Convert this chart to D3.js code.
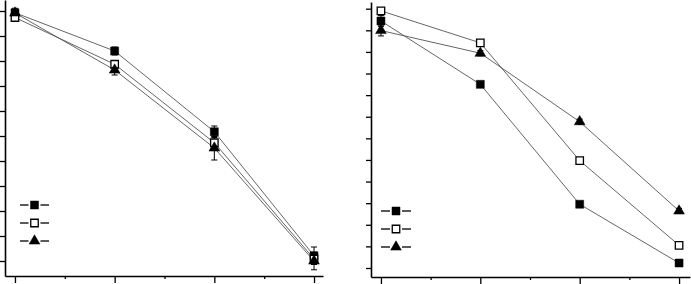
<!DOCTYPE html>
<html>
<head>
<meta charset="utf-8">
<script src="https://cdn.jsdelivr.net/npm/d3@7"></script>
<style>
  body { margin: 0; background: #fff; }
  svg { display: block; }
</style>
</head>
<body>
<script>
// x positions (4 groups), no labels in the picture
const groups = [0, 1, 2, 3];

// left panel values and errors
const leftFilled = [99.3, 84.0, 51.7, 2.1];
const leftOpen = [97.4, 78.7, 47.3, 0.8];
const leftTri = [99.2, 76.4, 45.2, 0.0];
const leftFilledErr = [1.8, 1.6, 2.3, 3.5];
const leftOpenErr = [1.0, 1.5, 2.5, 1.5];
const leftTriErr = [1.0, 2.0, 4.8, 3.5];
const leftTicks = d3.range(0, 101, 10);

// right panel values and errors
const rightFilled = [11.43, 8.5, 2.95, 0.23];
const rightOpen = [11.9, 10.42, 4.97, 1.05];
const rightTri = [10.99, 9.94, 6.77, 2.64];
const rightFilledErr = [0.25, 0.1, 0.1, 0.08];
const rightOpenErr = [0.08, 0.08, 0.1, 0.08];
const rightTriErr = [0.25, 0.12, 0.12, 0.12];
const rightTicks = d3.range(0, 13, 1);

const width = 691, height = 284;
const svg = d3.select("body").append("svg").attr("width", width).attr("height", height);

function panel(cfg) {
    const g = svg.append("g");
    const x = d3.scaleLinear().domain(cfg.xDomain).range(cfg.xRange);
    const y = d3.scaleLinear().domain(cfg.yDomain).range(cfg.yRange);

    // axes
    const xMajor = g.append("g").attr("transform", "translate(0," + cfg.yRange[0] + ")")
        .call(d3.axisBottom(x).tickValues(groups).tickSize(7).tickSizeOuter(0).tickFormat(""));
    g.append("g").attr("transform", "translate(0," + cfg.yRange[0] + ")")
        .call(d3.axisBottom(x).tickValues([0.5, 1.5, 2.5]).tickSize(3).tickFormat(""))
        .select(".domain").remove();
    const yAx = g.append("g").attr("transform", "translate(" + cfg.xRange[0] + ",0)")
        .call(d3.axisLeft(y).tickValues(cfg.ticks).tickSize(5).tickSizeOuter(0).tickFormat(""));
    g.selectAll(".domain").attr("stroke", "#000").attr("stroke-width", 1.6);
    g.selectAll(".tick line").attr("stroke", "#000").attr("stroke-width", 1.3);

    const line = d3.line().x((d, i) => x(groups[i])).y(d => y(d));

    cfg.series.forEach(s => {
        g.append("path").datum(s.values)
            .attr("fill", "none").attr("stroke", "#555").attr("stroke-width", 0.9)
            .attr("d", line);
    });
    cfg.series.forEach(s => {
        s.values.forEach((v, i) => {
            const cx = x(groups[i]);
            const e = s.err[i];
            g.append("line").attr("x1", cx).attr("x2", cx)
                .attr("y1", y(v + e)).attr("y2", y(v - e))
                .attr("stroke", "#000").attr("stroke-width", 1);
            [v + e, v - e].forEach(t => {
                g.append("line").attr("x1", cx - 3).attr("x2", cx + 3)
                    .attr("y1", y(t)).attr("y2", y(t))
                    .attr("stroke", "#000").attr("stroke-width", 1);
            });
        });
    });
    cfg.series.forEach(s => {
        g.selectAll(null).data(s.values).enter().append("path")
            .attr("transform", (d, i) => "translate(" + x(groups[i]) + "," + y(d) + ")")
            .attr("d", d3.symbol().type(s.type).size(s.size))
            .attr("fill", s.fill).attr("stroke", "#000").attr("stroke-width", s.fill == "#fff" ? 1.3 : 0.5);
    });

    // legend
    cfg.series.forEach((s, k) => {
        const ly = cfg.legend.y[k];
        g.append("line").attr("x1", cfg.legend.x0).attr("x2", cfg.legend.x1)
            .attr("y1", ly).attr("y2", ly).attr("stroke", "#000").attr("stroke-width", 1.3);
        const mx = (cfg.legend.x0 + cfg.legend.x1) / 2;
        g.append("rect").attr("x", mx - 6).attr("y", ly - 6).attr("width", 12).attr("height", 12).attr("fill", "#fff");
        g.append("path").attr("transform", "translate(" + mx + "," + ly + ")")
            .attr("d", d3.symbol().type(s.type).size(s.size))
            .attr("fill", s.fill).attr("stroke", "#000").attr("stroke-width", s.fill == "#fff" ? 1.3 : 0.5);
    });
}

panel({
    xDomain: [-0.1, 3.09], xRange: [5, 323],
    yDomain: [-6, 104.4], yRange: [276, 0],
    ticks: leftTicks,
    series: [
        {values: leftFilled, err: leftFilledErr, type: d3.symbolSquare, size: 64, fill: "#000"},
        {values: leftOpen, err: leftOpenErr, type: d3.symbolSquare, size: 56, fill: "#fff"},
        {values: leftTri, err: leftTriErr, type: d3.symbolTriangle, size: 50, fill: "#000"}
    ],
    legend: {x0: 20, x1: 49, y: [205, 223, 241]}
});

panel({
    xDomain: [-0.1, 3.11], xRange: [371, 690],
    yDomain: [-0.417, 12.31], yRange: [277, 2],
    ticks: rightTicks,
    series: [
        {values: rightFilled, err: rightFilledErr, type: d3.symbolSquare, size: 64, fill: "#000"},
        {values: rightOpen, err: rightOpenErr, type: d3.symbolSquare, size: 56, fill: "#fff"},
        {values: rightTri, err: rightTriErr, type: d3.symbolTriangle, size: 50, fill: "#000"}
    ],
    legend: {x0: 381, x1: 411, y: [211, 229, 247]}
});
</script>
</body>
</html>
